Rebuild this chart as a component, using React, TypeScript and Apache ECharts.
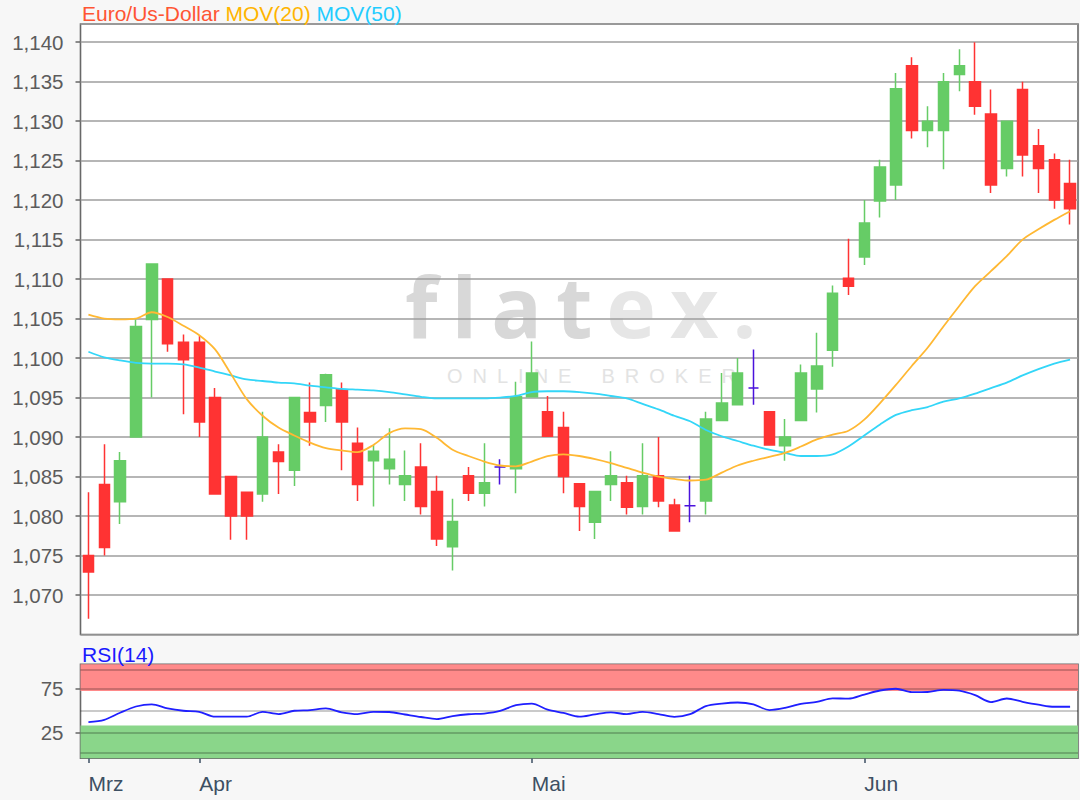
import React, { useEffect, useRef } from 'react';
import * as echarts from 'echarts';

// Trading days shown (23 Mar – 18 Jun)
const categories: string[] = [
  '2020-03-23', '2020-03-24', '2020-03-25', '2020-03-26', '2020-03-27', '2020-03-30', '2020-03-31',
  '2020-04-01', '2020-04-02', '2020-04-03', '2020-04-06', '2020-04-07', '2020-04-08', '2020-04-09',
  '2020-04-13', '2020-04-14', '2020-04-15', '2020-04-16', '2020-04-17', '2020-04-20', '2020-04-21',
  '2020-04-22', '2020-04-23', '2020-04-24', '2020-04-27', '2020-04-28', '2020-04-29', '2020-04-30',
  '2020-05-01', '2020-05-04', '2020-05-05', '2020-05-06', '2020-05-07', '2020-05-08', '2020-05-11',
  '2020-05-12', '2020-05-13', '2020-05-14', '2020-05-15', '2020-05-18', '2020-05-19', '2020-05-20',
  '2020-05-21', '2020-05-22', '2020-05-25', '2020-05-26', '2020-05-27', '2020-05-28', '2020-05-29',
  '2020-06-01', '2020-06-02', '2020-06-03', '2020-06-04', '2020-06-05', '2020-06-08', '2020-06-09',
  '2020-06-10', '2020-06-11', '2020-06-12', '2020-06-15', '2020-06-16', '2020-06-17', '2020-06-18',
];

const monthLabels: Record<string, string> = {
  '2020-03-23': 'Mrz',
  '2020-04-01': 'Apr',
  '2020-05-01': 'Mai',
  '2020-06-01': 'Jun',
};

const opens: number[] = [
  1.0750, 1.0840, 1.0818, 1.0900, 1.1049, 1.1100, 1.1020,
  1.1020, 1.0950, 1.0850, 1.0830, 1.0828, 1.0881, 1.0858, 1.0931, 1.0940, 1.0960, 1.0892,
  1.0870, 1.0860, 1.0840, 1.0862, 1.0831, 1.0761, 1.0851, 1.0829, 1.0862, 1.0860,
  1.0951, 1.0932, 1.0912, 1.0841, 1.0792, 1.0840, 1.0842, 1.0812, 1.0851, 1.0814, 1.0813,
  1.0819, 1.0921, 1.0941, 1.0962, 1.0932, 1.0889, 1.0921, 1.0961, 1.1010, 1.1101,
  1.1128, 1.1199, 1.1219, 1.1370, 1.1288, 1.1288, 1.1359, 1.1350, 1.1309, 1.1240, 1.1340,
  1.1269, 1.1251, 1.1221,
];
const closes: number[] = [
  1.0729, 1.0760, 1.0870, 1.1040, 1.1119, 1.1018, 1.0998,
  1.0919, 1.0828, 1.0800, 1.0800, 1.0900, 1.0869, 1.0950, 1.0919, 1.0979, 1.0919, 1.0840,
  1.0882, 1.0872, 1.0851, 1.0812, 1.0771, 1.0793, 1.0829, 1.0842, 1.0862, 1.0951,
  1.0981, 1.0901, 1.0850, 1.0812, 1.0831, 1.0851, 1.0811, 1.0851, 1.0819, 1.0781, 1.0813,
  1.0923, 1.0943, 1.0981, 1.0962, 1.0890, 1.0900, 1.0981, 1.0990, 1.1082, 1.1091,
  1.1171, 1.1242, 1.1341, 1.1288, 1.1300, 1.1350, 1.1370, 1.1319, 1.1219, 1.1300, 1.1257,
  1.1240, 1.1200, 1.1189,
];
const lows: number[] = [
  1.0670, 1.0750, 1.0790, 1.0900, 1.0950, 1.1008, 1.0929,
  1.0900, 1.0828, 1.0770, 1.0770, 1.0818, 1.0828, 1.0838, 1.0889, 1.0919, 1.0858, 1.0819,
  1.0812, 1.0840, 1.0819, 1.0802, 1.0762, 1.0731, 1.0819, 1.0812, 1.0840, 1.0829,
  1.0951, 1.0901, 1.0829, 1.0781, 1.0771, 1.0819, 1.0802, 1.0802, 1.0811, 1.0781, 1.0792,
  1.0802, 1.0921, 1.0941, 1.0941, 1.0890, 1.0870, 1.0921, 1.0931, 1.0989, 1.1080,
  1.1118, 1.1178, 1.1200, 1.1278, 1.1267, 1.1239, 1.1338, 1.1308, 1.1209, 1.1230, 1.1230,
  1.1209, 1.1189, 1.1169,
];
const highs: number[] = [
  1.0830, 1.0891, 1.0881, 1.1049, 1.1120, 1.1100, 1.1030,
  1.1028, 1.0962, 1.0850, 1.0830, 1.0932, 1.0891, 1.0950, 1.0969, 1.0980, 1.0969, 1.0912,
  1.0890, 1.0911, 1.0883, 1.0892, 1.0851, 1.0822, 1.0862, 1.0892, 1.0872, 1.0970,
  1.1021, 1.0952, 1.0932, 1.0841, 1.0831, 1.0882, 1.0851, 1.0892, 1.0900, 1.0822, 1.0851,
  1.0932, 1.0981, 1.1000, 1.1011, 1.0932, 1.0923, 1.0992, 1.1032, 1.1092, 1.1151,
  1.1200, 1.1251, 1.1361, 1.1381, 1.1319, 1.1361, 1.1391, 1.1400, 1.1340, 1.1300, 1.1350,
  1.1290, 1.1259, 1.1251,
];

const mov20: number[] = [
  1.1055, 1.1050, 1.1049, 1.1050, 1.1058, 1.1052, 1.1041,
  1.1029, 1.1011, 1.0980, 1.0948, 1.0927, 1.0912, 1.0902, 1.0893, 1.0886, 1.0883, 1.0881,
  1.0890, 1.0905, 1.0911, 1.0910, 1.0899, 1.0884, 1.0876, 1.0869, 1.0864, 1.0863,
  1.0869, 1.0876, 1.0878, 1.0876, 1.0872, 1.0867, 1.0861, 1.0855, 1.0850, 1.0847, 1.0845,
  1.0846, 1.0855, 1.0864, 1.0870, 1.0875, 1.0880, 1.0888, 1.0897, 1.0903, 1.0908,
  1.0922, 1.0943, 1.0966, 1.0990, 1.1013, 1.1040, 1.1066, 1.1091, 1.1110, 1.1129, 1.1150,
  1.1163, 1.1175, 1.1186,
];
const mov50: number[] = [
  1.1008, 1.1001, 1.0997, 1.0994, 1.0993, 1.0993, 1.0992,
  1.0988, 1.0983, 1.0978, 1.0973, 1.0971, 1.0969, 1.0968, 1.0965, 1.0963, 1.0961, 1.0960,
  1.0959, 1.0957, 1.0954, 1.0951, 1.0949, 1.0949, 1.0949, 1.0949, 1.0950, 1.0952,
  1.0957, 1.0958, 1.0958, 1.0957, 1.0955, 1.0952, 1.0949, 1.0942, 1.0935, 1.0927, 1.0920,
  1.0909, 1.0901, 1.0895, 1.0889, 1.0884, 1.0880, 1.0876, 1.0876, 1.0878, 1.0888,
  1.0902, 1.0916, 1.0928, 1.0934, 1.0938, 1.0945, 1.0949, 1.0955, 1.0962, 1.0969, 1.0978,
  1.0986, 1.0993, 1.0998,
];
const rsi14: number[] = [
  37, 39.5, 47.5, 54.5, 57, 52.4, 49.7,
  48.5, 43, 43, 43, 48.5, 46, 49.7, 50.5, 52.4, 48, 46,
  48.5, 48.3, 45.5, 42.7, 40.3, 43.7, 45.8, 46.6, 49.5, 56,
  57.8, 51, 47.2, 43, 45.7, 47.9, 45.9, 48.5, 46, 42.9, 45.9,
  55, 57.8, 59, 57, 50.5, 53, 57.5, 59.7, 63.7, 63.3,
  68, 72.5, 74.5, 70.6, 70.8, 73.2, 72.3, 67.3, 59.5, 63.5, 59.8,
  56.6, 54.2, 54.2,
];

const rsiLabelValues = [25, 75];
const rsiGridValues = [2, 25, 50, 75, 96];
const rsiOverbought = [72, 102];
const rsiOversold = [-3.8, 33];

const GREEN = '#66cc66';
const RED = '#ff3333';
const DOJI = '#4a12dc';
const FONT = '"Liberation Sans", Arial, sans-serif';

export default function App() {
  const ref = useRef<HTMLDivElement>(null);

  useEffect(() => {
    document.body.style.margin = '0';
    if (!ref.current) return;
    const chart = echarts.init(ref.current, undefined, { renderer: 'svg' });

    const candleData = categories.map((_, i) => {
      const v = [opens[i], closes[i], lows[i], highs[i]];
      if (opens[i] === closes[i]) {
        return {
          value: v,
          itemStyle: { color: DOJI, color0: DOJI, borderColor: DOJI, borderColor0: DOJI },
        };
      }
      return v;
    });

    const isMonthStart = (_i: number, v: string) => monthLabels[v] !== undefined;

    const left = 80.5;
    const width = 997.5;

    const option: any = {
      animation: false,
      backgroundColor: '#f7f7f7',
      textStyle: { fontFamily: FONT },
      title: [
        {
          text: '{a|Euro/Us-Dollar} {b|MOV(20)} {c|MOV(50)}',
          left: 82,
          top: 3,
          padding: 0,
          textStyle: {
            fontSize: 21,
            fontWeight: 'normal',
            rich: {
              a: { color: '#ff5533', fontSize: 21, fontFamily: FONT },
              b: { color: '#ffb400', fontSize: 21, fontFamily: FONT },
              c: { color: '#22ccff', fontSize: 21, fontFamily: FONT },
            },
          },
        },
        {
          text: 'RSI(14)',
          left: 82,
          top: 644,
          padding: 0,
          textStyle: { fontSize: 21, fontWeight: 'normal', color: '#1a1aff', fontFamily: FONT },
        },
      ],
      graphic: [
        { type: 'rect', z: -1, silent: true, shape: { x: left, y: 24, width, height: 610.5 }, style: { fill: '#ffffff' } },
        { type: 'rect', z: -1, silent: true, shape: { x: left, y: 664.3, width, height: 94 }, style: { fill: '#ffffff' } },
        {
          type: 'text',
          z: -1,
          silent: true,
          x: 398,
          y: 263,
          style: {
            text: '{a|f}{a|l}{a|a}{a|t}{b|e}{b|x}{b|.}',
            rich: {
              a: { fontSize: 84, fontFamily: '"Open Sans"', fontWeight: 'bold', fill: '#d8d8d8', padding: [0, 7] },
              b: { fontSize: 84, fontFamily: '"Open Sans"', fontWeight: 'bold', fill: '#e6e6e6', padding: [0, 7] },
            },
          },
        },
        {
          type: 'text',
          z: -1,
          silent: true,
          x: 447,
          y: 366,
          style: {
            text: 'O\u2002N\u2002L\u2002I\u2002N\u2002E\u2003\u2002B\u2002R\u2002O\u2002K\u2002E\u2002R',
            fontSize: 20,
            fontFamily: FONT,
            fill: '#e3e3e3',
          },
        },
      ],
      grid: [
        { left, top: 24, width, height: 610.5, show: true, backgroundColor: 'transparent', borderColor: '#686868', borderWidth: 1.6 },
        { left, top: 664.3, width, height: 94, show: true, backgroundColor: 'transparent', borderColor: '#686868', borderWidth: 1.6 },
      ],
      xAxis: [
        {
          type: 'category',
          gridIndex: 0,
          data: categories,
          boundaryGap: true,
          axisLine: { show: false },
          axisTick: { show: false },
          axisLabel: { show: false },
          splitLine: { show: false },
        },
        {
          type: 'category',
          gridIndex: 1,
          data: categories,
          boundaryGap: true,
          axisLine: { show: false },
          axisTick: {
            show: true,
            alignWithLabel: true,
            interval: isMonthStart,
            length: 8,
            lineStyle: { color: '#3d4f63', width: 1.5 },
          },
          axisLabel: {
            show: true,
            interval: isMonthStart,
            formatter: (v: string) => monthLabels[v] || '',
            align: 'left',
            color: '#3d4f63',
            fontSize: 21,
            fontFamily: FONT,
            margin: 15,
          },
          splitLine: { show: false },
        },
      ],
      yAxis: [
        {
          type: 'value',
          gridIndex: 0,
          min: 1.065,
          max: 1.1423,
          interval: 0.005,
          axisLine: { show: false },
          axisTick: { show: true, length: 5, lineStyle: { color: '#666', width: 1.5 } },
          axisLabel: {
            formatter: (v: number) => v.toFixed(3).replace('.', ','),
            color: '#5c5c5c',
            fontSize: 20.5,
            fontFamily: FONT,
            margin: 17,
            showMinLabel: false,
            showMaxLabel: false,
          },
          splitLine: { show: true, lineStyle: { color: '#9e9e9e', width: 1.6 } },
        },
        {
          type: 'value',
          gridIndex: 1,
          min: rsiOversold[0],
          max: rsiOverbought[1],
          axisLine: { show: false },
          axisTick: { show: true, length: 5, customValues: rsiLabelValues, lineStyle: { color: '#666', width: 1.5 } },
          axisLabel: {
            customValues: rsiLabelValues,
            color: '#5c5c5c',
            fontSize: 20.5,
            fontFamily: FONT,
            margin: 17,
          },
          splitLine: { show: false },
        },
      ],
      series: [
        {
          type: 'candlestick',
          name: 'Euro/Us-Dollar',
          xAxisIndex: 0,
          yAxisIndex: 0,
          barWidth: 11,
          data: candleData,
          itemStyle: {
            color: GREEN,
            color0: RED,
            borderColor: GREEN,
            borderColor0: RED,
            borderColorDoji: DOJI,
            borderWidth: 1.5,
          },
          z: 2,
        },
        {
          type: 'line',
          name: 'MOV(50)',
          xAxisIndex: 0,
          yAxisIndex: 0,
          data: mov50,
          showSymbol: false,
          smooth: 0.3,
          lineStyle: { color: '#33d6f8', width: 1.8 },
          z: 3,
        },
        {
          type: 'line',
          name: 'MOV(20)',
          xAxisIndex: 0,
          yAxisIndex: 0,
          data: mov20,
          showSymbol: false,
          smooth: 0.3,
          lineStyle: { color: '#ffb833', width: 1.8 },
          z: 3,
        },
        {
          type: 'line',
          name: 'RSI bands',
          xAxisIndex: 1,
          yAxisIndex: 1,
          data: [],
          silent: true,
          markArea: {
            silent: true,
            data: [
              [{ yAxis: rsiOverbought[0], itemStyle: { color: '#ff8a8a' } }, { yAxis: rsiOverbought[1] }],
              [{ yAxis: rsiOversold[0], itemStyle: { color: '#8ad68a' } }, { yAxis: rsiOversold[1] }],
            ],
          },
          markLine: {
            silent: true,
            symbol: ['none', 'none'],
            label: { show: false },
            lineStyle: { color: 'rgba(0,0,0,0.28)', width: 1.5, type: 'solid' },
            data: rsiGridValues.map((v) => ({ yAxis: v })),
          },
        },
        {
          type: 'line',
          name: 'RSI(14)',
          xAxisIndex: 1,
          yAxisIndex: 1,
          data: rsi14,
          showSymbol: false,
          smooth: 0.3,
          lineStyle: { color: '#1f1fff', width: 1.8 },
          z: 6,
        },
      ],
    };

    chart.setOption(option);
    return () => chart.dispose();
  }, []);

  return (
    <div
      ref={ref}
      style={{ position: 'absolute', left: 0, top: 0, width: 1080, height: 800 }}
    />
  );
}
